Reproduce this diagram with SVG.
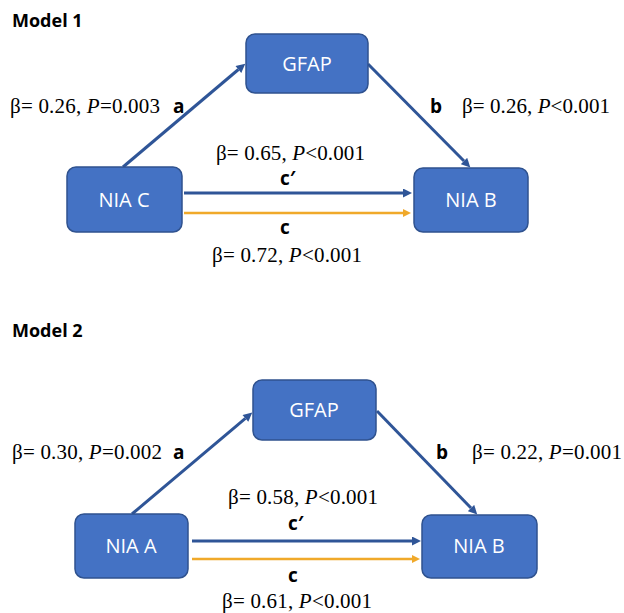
<svg xmlns="http://www.w3.org/2000/svg" width="624" height="613" viewBox="0 0 624 613">
<style>
.bg{fill:#ffffff}
.box{fill:#4472C4;stroke:#2F528F;stroke-width:1.5}
.bt{font-family:"Open Sans","Liberation Sans",sans-serif;font-size:20px;fill:#ffffff;text-anchor:middle}
.ttl{font-family:"Open Sans","Liberation Sans",sans-serif;font-size:18px;font-weight:bold;fill:#000}
.lbl{font-family:"Open Sans","Liberation Sans",sans-serif;font-size:19px;font-weight:bold;fill:#000}
.st{font-family:"Liberation Serif","Times New Roman",serif;font-size:21px;fill:#000}
.it{font-style:italic}
.lb{fill:none;stroke:#2F5597;stroke-width:3}
.lo{fill:none;stroke:#F0A92A;stroke-width:2.6}
</style>
<defs>
<marker id="ab" viewBox="0 0 10 10" refX="0" refY="5" markerWidth="10" markerHeight="9" markerUnits="userSpaceOnUse" orient="auto">
<path d="M0,0 L10,5 L0,10 z" fill="#2F5597"/>
</marker>
<marker id="ao" viewBox="0 0 10 10" refX="0" refY="5" markerWidth="10" markerHeight="8" markerUnits="userSpaceOnUse" orient="auto">
<path d="M0,0 L10,5 L0,10 z" fill="#F0A92A"/>
</marker>
</defs>
<rect class="bg" x="0" y="0" width="624" height="613"/>

<text class="ttl" x="12" y="27">Model 1</text>
<text class="ttl" x="12" y="337">Model 2</text>

<g id="connectors">
<line class="lb" x1="123" y1="167" x2="238.4" y2="69.5" marker-end="url(#ab)"/>
<line class="lb" x1="368" y1="64" x2="464" y2="161" marker-end="url(#ab)"/>
<line class="lb" x1="184" y1="193" x2="403" y2="193" marker-end="url(#ab)"/>
<line class="lo" x1="184" y1="213" x2="403" y2="213" marker-end="url(#ao)"/>

<line class="lb" x1="132" y1="514" x2="245.4" y2="418.4" marker-end="url(#ab)"/>
<line class="lb" x1="377" y1="411" x2="471" y2="508" marker-end="url(#ab)"/>
<line class="lb" x1="192" y1="541" x2="412" y2="541" marker-end="url(#ab)"/>
<line class="lo" x1="192" y1="559" x2="412" y2="559" marker-end="url(#ao)"/>
</g>

<g id="m1-gfap"><rect class="box" x="246" y="34" width="122" height="59" rx="9"/><text class="bt" x="307" y="71">GFAP</text></g>
<g id="m1-niac"><rect class="box" x="67" y="167" width="115" height="65" rx="9"/><text class="bt" x="124" y="207">NIA C</text></g>
<g id="m1-niab"><rect class="box" x="414" y="168" width="114" height="64" rx="9"/><text class="bt" x="471" y="207">NIA B</text></g>

<g id="m2-gfap"><rect class="box" x="253" y="380" width="123" height="60" rx="9"/><text class="bt" x="314" y="417">GFAP</text></g>
<g id="m2-niaa"><rect class="box" x="75" y="514" width="113" height="64" rx="9"/><text class="bt" x="131" y="553">NIA A</text></g>
<g id="m2-niab"><rect class="box" x="422" y="515" width="115" height="63" rx="9"/><text class="bt" x="479" y="553">NIA B</text></g>

<g id="labels">
<text class="st" x="10" y="113" textLength="150" lengthAdjust="spacing">β= 0.26, <tspan class="it">P</tspan>=0.003</text>
<text class="lbl" x="173" y="113">a</text>
<text class="lbl" x="430" y="113">b</text>
<text class="st" x="462" y="113" textLength="148" lengthAdjust="spacing">β= 0.26, <tspan class="it">P</tspan>&lt;0.001</text>
<text class="st" x="216" y="160" textLength="149" lengthAdjust="spacing">β= 0.65, <tspan class="it">P</tspan>&lt;0.001</text>
<text class="lbl" x="280" y="185">c′</text>
<text class="lbl" x="280" y="234">c</text>
<text class="st" x="212" y="262" textLength="150" lengthAdjust="spacing">β= 0.72, <tspan class="it">P</tspan>&lt;0.001</text>

<text class="st" x="12" y="459" textLength="150" lengthAdjust="spacing">β= 0.30, <tspan class="it">P</tspan>=0.002</text>
<text class="lbl" x="173" y="459">a</text>
<text class="lbl" x="436" y="459">b</text>
<text class="st" x="472" y="459" textLength="150" lengthAdjust="spacing">β= 0.22, <tspan class="it">P</tspan>=0.001</text>
<text class="st" x="228" y="504" textLength="150" lengthAdjust="spacing">β= 0.58, <tspan class="it">P</tspan>&lt;0.001</text>
<text class="lbl" x="288" y="530">c′</text>
<text class="lbl" x="288" y="582">c</text>
<text class="st" x="222" y="608" textLength="150" lengthAdjust="spacing">β= 0.61, <tspan class="it">P</tspan>&lt;0.001</text>
</g>
</svg>
